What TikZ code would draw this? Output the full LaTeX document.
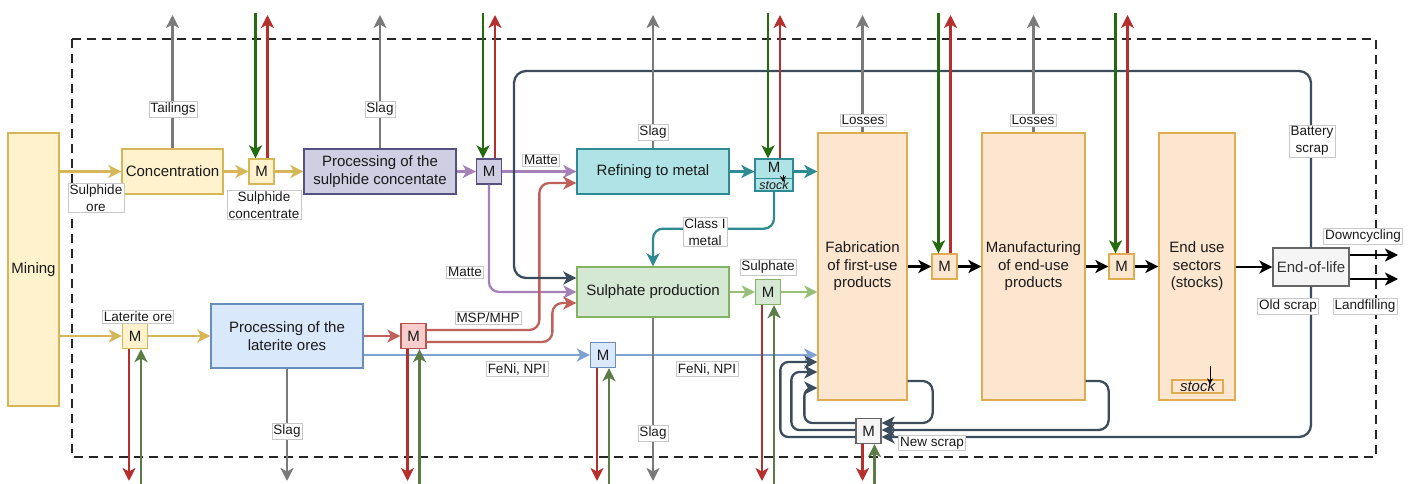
\documentclass[tikz,border=0pt]{standalone}
\usepackage{fontspec}
\setmainfont{Liberation Sans}
\usetikzlibrary{arrows.meta}

\definecolor{txt}{HTML}{1A1A1A}
\definecolor{ylwfill}{HTML}{FFF2CC}
\definecolor{ylwline}{HTML}{D6B656}
\definecolor{prpfill}{HTML}{D0CEE2}
\definecolor{prpline}{HTML}{56517E}
\definecolor{prparr}{HTML}{A680B8}
\definecolor{tealfill}{HTML}{B0E3E6}
\definecolor{tealline}{HTML}{2E8A93}
\definecolor{grnfill}{HTML}{D5E8D4}
\definecolor{grnline}{HTML}{82B366}
\definecolor{grnarr}{HTML}{97BF7A}
\definecolor{blufill}{HTML}{DAE8FC}
\definecolor{bluline}{HTML}{6C8EBF}
\definecolor{bluarr}{HTML}{7EA2D4}
\definecolor{redfill}{HTML}{F8CECC}
\definecolor{redline}{HTML}{B85450}
\definecolor{redarr}{HTML}{BF605A}
\definecolor{orgfill}{HTML}{FDE6CF}
\definecolor{orgline}{HTML}{E0AC52}
\definecolor{gryfill}{HTML}{F5F5F5}
\definecolor{gryline}{HTML}{666666}
\definecolor{eoltxt}{HTML}{333333}
\definecolor{slate}{HTML}{3B4C5C}
\definecolor{grayarr}{HTML}{7A7A7A}
\definecolor{topgrn}{HTML}{236B0E}
\definecolor{botgrn}{HTML}{5B7B47}
\definecolor{impred}{HTML}{B5302D}
\definecolor{lblline}{HTML}{C8C8C8}

\tikzset{
  box/.style={draw, line width=1.3pt, inner sep=0pt, align=center, text=txt,
    font=\fontsize{15}{17.5}\selectfont},
  mix/.style={box, minimum width=25pt, minimum height=25pt},
  ylwbox/.style={fill=ylwfill, draw=ylwline},
  prpbox/.style={fill=prpfill, draw=prpline},
  tealbox/.style={fill=tealfill, draw=tealline},
  grnbox/.style={fill=grnfill, draw=grnline},
  blubox/.style={fill=blufill, draw=bluline},
  redbox/.style={fill=redfill, draw=redline},
  orgbox/.style={fill=orgfill, draw=orgline},
  grybox/.style={fill=gryfill, draw=gryline},
  lbl/.style={fill=white, draw=lblline, line width=0.5pt, inner sep=1.5pt, align=center,
    text=txt, font=\fontsize{13.5}{16.5}\selectfont},
  flow/.style={line width=2.3pt, -{Stealth[length=13pt,width=13pt,inset=3.5pt]}},
  tiny/.style={line width=0.8pt, -{Stealth[length=6pt,width=6pt]}},
}

\begin{document}
\begin{tikzpicture}[x=1pt,y=-1pt]
\useasboundingbox (0,0) rectangle (1414,484);
\coordinate (top) at (0,13);
\coordinate (tip) at (0,15);
\coordinate (bot) at (0,484);
\coordinate (bottip) at (0,481);
\coordinate (scrapturn) at (514,71);
\coordinate (down) at (1398,255);
\coordinate (land) at (1398,279);

% system boundary
\draw[line width=2.2pt, dash pattern=on 9pt off 6pt, black!85] (72,39) rectangle (1376,457);

% processes
\node[box, ylwbox, minimum width=51pt, minimum height=273pt] (mining) at (33.5,269.5) {Mining};
\node[box, ylwbox, minimum width=101pt, minimum height=45pt] (conc) at (172.5,171.5) {Concentration};
\node[mix, ylwbox] (m1) at (261.5,171.5) {M};
\node[box, prpbox, minimum width=152pt, minimum height=45pt] (psul) at (380,171.5) {Processing of the\\sulphide concentate};
\node[mix, prpbox] (m2) at (489,171.5) {M};
\node[box, tealbox, minimum width=152pt, minimum height=45pt] (refine) at (653,171.5) {Refining to metal};
\node[box, tealbox, minimum width=38pt, minimum height=32pt] (m3) at (774,175) {};
\draw[tealline, line width=1.3pt] ([yshift=-3.5pt]m3.west) -- ([yshift=-3.5pt]m3.east);
\node[text=txt, font=\fontsize{15}{15}\selectfont] (m3m) at (774,167.5) {M};
\node[text=txt, font=\itshape\fontsize{12.5}{12.5}\selectfont] (m3s) at (774,185.5) {stock};
\node[box, grnbox, minimum width=152pt, minimum height=50pt] (sulph) at (653,292) {Sulphate production};
\node[mix, grnbox] (m6) at (768,292) {M};
\node[mix, ylwbox] (m7) at (135,336) {M};
\node[box, blubox, minimum width=152pt, minimum height=64pt] (plat) at (287,336) {Processing of the\\laterite ores};
\node[mix, redbox] (m8) at (413.5,336) {M};
\node[mix, blubox] (m9) at (603,355) {M};
\node[box, orgbox, minimum width=89pt, minimum height=267pt] (fab) at (862.5,266.5) {Fabrication\\of first-use\\products};
\node[mix, orgbox] (m4) at (944.5,266.5) {M};
\node[box, orgbox, minimum width=103pt, minimum height=267pt] (manu) at (1033.5,266.5) {Manufacturing\\of end-use\\products};
\node[mix, orgbox] (m5) at (1121.5,266.5) {M};
\node[box, orgbox, minimum width=76pt, minimum height=267pt] (enduse) at (1197,266.5) {End use\\sectors\\(stocks)};
\node[box, orgbox, minimum width=51pt, minimum height=13pt, font=\itshape\fontsize{15}{15}\selectfont] (stock) at (1197.5,386.5) {stock};
\node[box, grybox, text=eoltxt, minimum width=76pt, minimum height=38pt] (eol) at (1311,267) {End-of-life};
\node[mix, grybox] (m10) at (868.5,431) {M};

% sulphide route
\draw[flow, ylwline] (mining.east |- conc) -- (conc);
\draw[flow, ylwline] (conc) -- (m1);
\draw[flow, ylwline] (m1) -- (psul);
\draw[flow, prparr] (psul) -- (m2);
\draw[flow, prparr] (m2) -- (refine);
\draw[flow, prparr, rounded corners=10pt] (m2.south) |- (sulph.west);
\draw[flow, tealline] (refine) -- (refine.east -| m3.west);
\draw[flow, tealline] (m3.east |- refine) -- (fab.west |- refine);
\draw[flow, tealline, rounded corners=10pt] (m3.south) -- ++(0,37) -| (sulph.north);

% laterite route
\draw[flow, ylwline] (mining.east |- m7) -- (m7);
\draw[flow, ylwline] (m7) -- (plat);
\draw[flow, redarr] (plat) -- (m8);
\draw[flow, redarr, rounded corners=10pt] ([yshift=6pt]m8.east) -| ([xshift=-37pt,yshift=-11.5pt]refine.west) -- ([yshift=-11.5pt]refine.west);
\draw[flow, redarr, rounded corners=10pt] ([yshift=-6pt]m8.east) -| ([xshift=-24pt,yshift=-11pt]sulph.west) -- ([yshift=-11pt]sulph.west);
\draw[flow, bluarr] ([yshift=-19pt]plat.east) -- (m9);
\draw[flow, bluarr] (m9) -- (fab.west |- m9);
\draw[flow, grnarr] (sulph) -- (m6);
\draw[flow, grnarr] (m6) -- (fab.west |- m6);

% use phase
\draw[flow] (fab.east |- m4) -- (m4);
\draw[flow] (m4) -- (manu);
\draw[flow] (manu.east |- m5) -- (m5);
\draw[flow] (m5) -- (enduse);
\draw[flow] (enduse.east |- eol) -- (eol);
\draw[flow] ([yshift=12pt]eol.east) -- (down);
\draw[flow] ([yshift=-12pt]eol.east) -- (land);
\draw[tiny] ([xshift=9pt]m3.center) -- ++(0,7);
\draw[tiny] ([xshift=12.5pt,yshift=13pt]stock.north) -- ++(0,18);

% scrap loops
\draw[flow, slate, rounded corners=12pt] (eol.north) |- (scrapturn) |- ([yshift=14pt]sulph.west);
\draw[flow, slate, rounded corners=12pt] (eol.south) |- ([yshift=-6pt]m10.east);
\draw[flow, slate, rounded corners=10pt] ([yshift=-114.5pt]fab.east) -- ++(25,0) |- ([yshift=8pt]m10.east);
\draw[flow, slate, rounded corners=10pt] ([yshift=-114.5pt]manu.east) -- ++(23,0) |- ([yshift=1pt]m10.east);
\draw[flow, slate, rounded corners=8pt] ([yshift=-6pt]m10.west) -| ([xshift=-37pt,yshift=-95.5pt]fab.west) -- ([yshift=-95.5pt]fab.west);
\draw[flow, slate, rounded corners=8pt] ([yshift=1pt]m10.west) -| ([xshift=-26pt,yshift=-105.5pt]fab.west) -- ([yshift=-105.5pt]fab.west);
\draw[flow, slate, rounded corners=8pt] ([yshift=8pt]m10.west) -| ([xshift=-13pt,yshift=-121.5pt]fab.west) -- ([yshift=-121.5pt]fab.west);

% losses and slag
\foreach \n in {conc,psul,refine,fab,manu}
  \draw[flow, grayarr] (\n.north) -- (\n.north |- tip);
\foreach \n in {plat,sulph}
  \draw[flow, grayarr] (\n.south) -- (\n.south |- bottip);

% imports and exports
\foreach \n in {m1,m2,m3,m4,m5} {
  \path ([xshift=-6pt]\n.north) coordinate (gi) ([xshift=6pt]\n.north) coordinate (ro);
  \draw[flow, topgrn] (gi |- top) -- (gi);
  \draw[flow, impred] (ro) -- (ro |- tip);
}
\foreach \n in {m7,m8,m9,m6,m10} {
  \path ([xshift=-6pt]\n.south) coordinate (ro) ([xshift=6pt]\n.south) coordinate (gi);
  \draw[flow, impred] (ro) -- (ro |- bottip);
  \draw[flow, botgrn] (gi |- bot) -- (gi);
}

% labels
\node[lbl] (lsore) at (96,198) {Sulphide\\ore};
\node[lbl] (ltail) at (173,109) {Tailings};
\node[lbl] (lscon) at (264,205) {Sulphide\\concentrate};
\node[lbl] (lslag1) at (380,109) {Slag};
\node[lbl] (lmatte1) at (541,160) {Matte};
\node[lbl] (lslag2) at (653,132) {Slag};
\node[lbl] (lclass) at (705,232) {Class I\\metal};
\node[lbl] (lloss1) at (863,120) {Losses};
\node[lbl] (lloss2) at (1033,120) {Losses};
\node[lbl] (lbat) at (1312,141) {Battery\\scrap};
\node[lbl] (ldown) at (1363,236) {Downcycling};
\node[lbl] (lold) at (1288,306) {Old scrap};
\node[lbl] (lland) at (1365,306) {Landfilling};
\node[lbl] (lmatte2) at (465,272) {Matte};
\node[lbl] (lmsp) at (488,318) {MSP/MHP};
\node[lbl] (llat) at (138,317) {Laterite ore};
\node[lbl] (lsulf) at (768,267) {Sulphate};
\node[lbl] (lfeni1) at (517,369) {FeNi, NPI};
\node[lbl] (lfeni2) at (707,369) {FeNi, NPI};
\node[lbl] (lslag3) at (287,431) {Slag};
\node[lbl] (lslag4) at (653,433) {Slag};
\node[lbl] (lnew) at (932,443) {New scrap};
\end{tikzpicture}
\end{document}
